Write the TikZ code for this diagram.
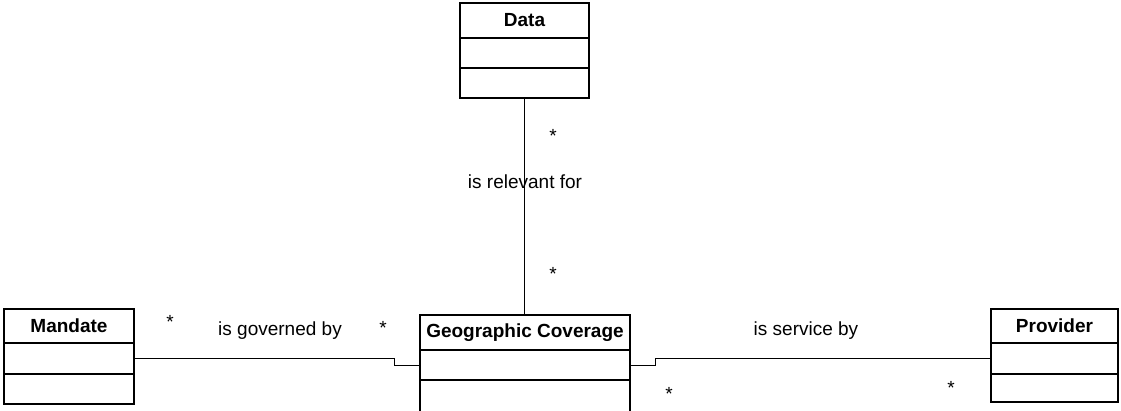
\documentclass[tikz,border=0pt]{standalone}
\usepackage{fontspec}
\setmainfont{Liberation Sans}
\begin{document}
\begin{tikzpicture}[x=1pt,y=-1pt,
  clsbox/.style={draw, line width=1.5pt, inner sep=0pt, outer sep=0pt},
  clstitle/.style={clsbox, font=\fontsize{19}{22}\selectfont\bfseries},
  conn/.style={line width=1pt},
  lbl/.style={inner sep=0pt, font=\fontsize{19}{22}\selectfont},
  mult/.style={inner sep=0pt, font=\fontsize{19}{22}\selectfont}]
\useasboundingbox (0,0) rectangle (1121,410);
% Data
\node[clstitle, minimum width=129pt, minimum height=35pt, anchor=north west] (data) at (460,3) {Data};
\node[clsbox, minimum width=129pt, minimum height=30pt, anchor=north] (data attr) at (data.south) {};
\node[clsbox, minimum width=129pt, minimum height=30pt, anchor=north] (data ops) at (data attr.south) {};
% Mandate
\node[clstitle, minimum width=130pt, minimum height=34pt, anchor=north west] (mandate) at (4,309) {Mandate};
\node[clsbox, minimum width=130pt, minimum height=31pt, anchor=north] (mandate attr) at (mandate.south) {};
\node[clsbox, minimum width=130pt, minimum height=30pt, anchor=north] (mandate ops) at (mandate attr.south) {};
% Geographic Coverage
\node[clstitle, minimum width=210pt, minimum height=35pt, anchor=north west] (gc) at (420,315) {Geographic Coverage};
\node[clsbox, minimum width=210pt, minimum height=30pt, anchor=north] (gc attr) at (gc.south) {};
\node[clsbox, minimum width=210pt, minimum height=34pt, anchor=north] (gc ops) at (gc attr.south) {};
% Provider
\node[clstitle, minimum width=127pt, minimum height=34pt, anchor=north west] (provider) at (991,309) {Provider};
\node[clsbox, minimum width=127pt, minimum height=31pt, anchor=north] (provider attr) at (provider.south) {};
\node[clsbox, minimum width=127pt, minimum height=28pt, anchor=north] (provider ops) at (provider attr.south) {};
% connectors
\coordinate (gbend) at (394,0);
\coordinate (pbend) at (655,0);
\draw[conn] (data ops.south) -- (data ops.south |- gc.north);
\draw[conn] (mandate attr.east) -| (gbend |- gc attr.west) -- (gc attr.west);
\draw[conn] (gc attr.east) -| (pbend |- provider attr.west) -- (provider attr.west);
% labels
\node[lbl] (l1) at (525,182) {is relevant for};
\node[mult] (m1) at (553,136) {*};
\node[mult] (m2) at (553,274) {*};
\node[lbl] (l2) at (280,331) {is governed by};
\node[mult] (m3) at (170,322) {*};
\node[mult] (m4) at (383,328) {*};
\node[lbl] (l3) at (806,331) {is service by};
\node[mult] (m5) at (669,394) {*};
\node[mult] (m6) at (951,388) {*};
\end{tikzpicture}
\end{document}
